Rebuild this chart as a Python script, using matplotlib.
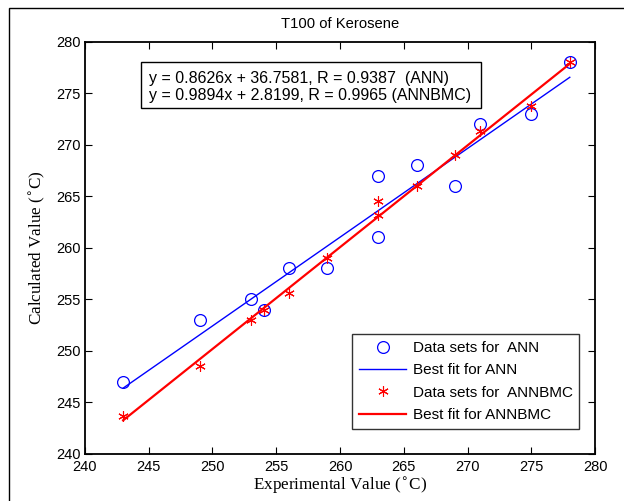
import matplotlib
matplotlib.use('Agg')
import matplotlib.pyplot as plt
from matplotlib.patches import Rectangle
import numpy as np

# experimental vs calculated T100 values
exp_ann = [243, 249, 253, 254, 256, 259, 263, 263, 266, 269, 271, 275, 278]
calc_ann = [247, 253, 255, 254, 258, 258, 267, 261, 268, 266, 272, 273, 278]
exp_bmc = [243, 249, 253, 254, 256, 259, 263, 263, 266, 269, 271, 275, 278]
calc_bmc = [243.7, 248.5, 253, 254, 255.6, 259, 264.5, 263.2, 266, 269, 271.3, 273.8, 278]

# fit coefficients shown in the text box
fit_ann = (0.8626, 36.7581)
fit_bmc = (0.9894, 2.8199)

sans = ['Liberation Sans', 'DejaVu Sans']
serif = ['Liberation Serif', 'DejaVu Serif']
plt.rcParams['font.family'] = sans

fig = plt.figure(figsize=(6.24, 5.01), dpi=100)
ax = fig.add_axes([0.136, 0.0944, 0.818, 0.822])

# figure frame (left and top edges visible)
fig.patches.append(Rectangle((0.0145, -0.05), 1.1, 1.034, transform=fig.transFigure,
                             fill=False, edgecolor='black', linewidth=1.0))

xs = np.array([min(exp_ann), max(exp_ann)])
ax.plot(exp_ann, calc_ann, 'o', mfc='none', mec='blue', ms=8.5, mew=0.9,
        label='Data sets for  ANN')
ax.plot(xs, fit_ann[0] * xs + fit_ann[1], color='blue', lw=1.0,
        label='Best fit for ANN')
ax.plot(exp_bmc, calc_bmc, ls='none', marker=(6, 2, 0), color='red', ms=7.5, mew=0.8,
        label='Data sets for  ANNBMC')
ax.plot(xs, fit_bmc[0] * xs + fit_bmc[1], color='red', lw=1.6,
        label='Best fit for ANNBMC')

ax.set_xlim(240, 280)
ax.set_ylim(240, 280)
ax.set_xticks(np.arange(240, 281, 5))
ax.set_yticks(np.arange(240, 281, 5))
ax.tick_params(direction='in', top=True, right=True, labelsize=10.5, length=5, pad=3)
ax.tick_params(axis='x', pad=4.5)
for s in ax.spines.values():
    s.set_linewidth(1.3)

ax.set_title('T100 of Kerosene', fontsize=10.6, pad=10)
ax.set_xlabel('Experimental Value ($^{\\circ}$C)', family=serif, fontsize=12.3, labelpad=1)
ax.set_ylabel('Calculated Value ($^{\\circ}$C)', family=serif, fontsize=12.3, labelpad=6)

# equation box
ax.add_patch(Rectangle((0.109, 0.840), 0.668, 0.111, transform=ax.transAxes,
                       fill=False, edgecolor='black', lw=1.0, zorder=5))
ax.text(0.125, 0.891,
        'y = 0.8626x + 36.7581, R = 0.9387  (ANN)\ny = 0.9894x + 2.8199, R = 0.9965 (ANNBMC)',
        transform=ax.transAxes, fontsize=11.5, va='center', ha='left', linespacing=1.15)

leg = ax.legend(loc='lower right', bbox_to_anchor=(0.969, 0.060), borderaxespad=0,
                fontsize=11, frameon=True, fancybox=False, edgecolor='black',
                handlelength=3.1, borderpad=0.45, labelspacing=0.55, handletextpad=0.4)
leg.get_frame().set_linewidth(1.0)

fig.savefig('out.png', dpi=100)
